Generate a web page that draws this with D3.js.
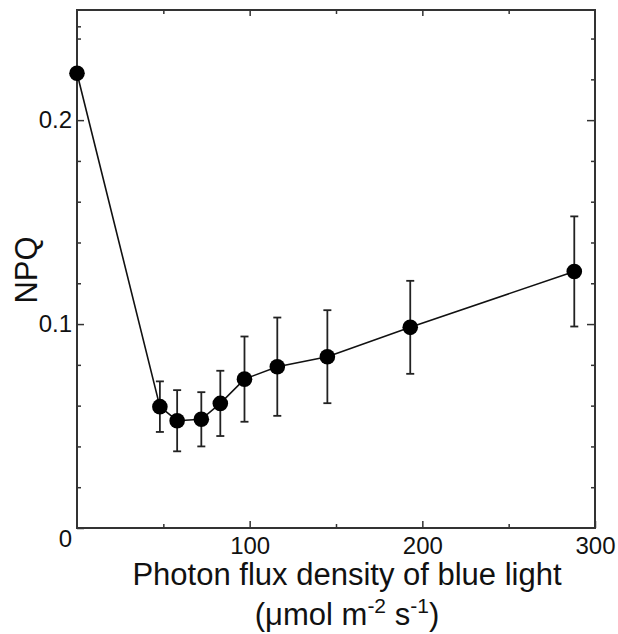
<!DOCTYPE html>
<html>
<head>
<meta charset="utf-8">
<script src="https://cdn.jsdelivr.net/npm/d3@7"></script>
<style>
  body { margin: 0; background: #fff; }
  text { font-family: "Liberation Sans", Arial, sans-serif; fill: #111; }
</style>
</head>
<body>
<div id="chart"></div>
<script>
// values
const pfd = [0, 48, 58, 72, 83, 97, 116, 145, 193, 288];
const npq = [0.223, 0.0595, 0.0526, 0.0533, 0.0611, 0.0730, 0.0791, 0.0840, 0.0984, 0.1258];
const npqErr = [0, 0.0124, 0.015, 0.0133, 0.016, 0.0209, 0.0241, 0.0228, 0.0228, 0.027];

const xMajor = [100, 200, 300];
const xMinor = [50, 150, 250];
const yMajor = [0, 0.1, 0.2];
const yMinorLeft = [0.02, 0.04, 0.06, 0.08, 0.12, 0.14, 0.16, 0.18, 0.24, 0.246];
const yMinorRight = [0.02, 0.04, 0.06, 0.08, 0.12, 0.14, 0.16, 0.18, 0.22, 0.24];

const W = 618, H = 634;
const margin = { top: 10, right: 23, bottom: 106, left: 77 };
const width = W - margin.left - margin.right;
const height = H - margin.top - margin.bottom;

const svg = d3.select("#chart")
  .append("svg")
  .attr("width", W)
  .attr("height", H);

const g = svg.append("g")
  .attr("transform", `translate(${margin.left},${margin.top})`);

const x = d3.scaleLinear().domain([0, 300]).range([0, width]);
const y = d3.scaleLinear().domain([0, 0.254]).range([height, 0]);

const data = pfd.map((d, i) => ({ x: d, y: npq[i], e: npqErr[i] }));

// axes, ticks pointing inwards
function styleAxis(sel) {
  sel.select(".domain").remove();
  sel.selectAll("line").attr("stroke", "#333").attr("stroke-width", 1.5);
  sel.selectAll("text").style("font-size", "24px").attr("fill", "#111");
}

g.append("g").attr("transform", `translate(0,${height})`)
  .call(d3.axisBottom(x).tickValues(xMajor).tickSize(-7).tickPadding(9).tickFormat(d3.format("d")))
  .call(styleAxis);
g.append("g").attr("transform", `translate(0,${height})`)
  .call(d3.axisBottom(x).tickValues(xMinor).tickSize(-4).tickFormat(""))
  .call(styleAxis);
g.append("g")
  .call(d3.axisTop(x).tickValues([100, 200]).tickSize(-6).tickFormat(""))
  .call(styleAxis);
g.append("g")
  .call(d3.axisTop(x).tickValues(xMinor).tickSize(-4).tickFormat(""))
  .call(styleAxis);

g.append("g")
  .call(d3.axisLeft(y).tickValues(yMajor).tickSize(-7).tickPadding(5)
    .tickFormat(d => d === 0 ? "0" : d3.format(".1f")(d)))
  .call(styleAxis)
  .call(a => a.selectAll(".tick").filter(d => d === 0).select("text").attr("dy", "0.78em"));
g.append("g")
  .call(d3.axisLeft(y).tickValues(yMinorLeft).tickSize(-4).tickFormat(""))
  .call(styleAxis);
g.append("g").attr("transform", `translate(${width},0)`)
  .call(d3.axisRight(y).tickValues([0.1, 0.2]).tickSize(-8).tickFormat(""))
  .call(styleAxis);
g.append("g").attr("transform", `translate(${width},0)`)
  .call(d3.axisRight(y).tickValues(yMinorRight).tickSize(-4).tickFormat(""))
  .call(styleAxis);

// frame
g.append("rect")
  .attr("width", width)
  .attr("height", height)
  .attr("fill", "none")
  .attr("stroke", "#333")
  .attr("stroke-width", 2);

// error bars
const bars = g.append("g").selectAll("g")
  .data(data.filter(d => d.e > 0))
  .enter().append("g")
  .attr("stroke", "#222")
  .attr("stroke-width", 1.8);

bars.append("line")
  .attr("x1", d => x(d.x)).attr("x2", d => x(d.x))
  .attr("y1", d => y(d.y + d.e)).attr("y2", d => y(d.y - d.e));
bars.append("line")
  .attr("x1", d => x(d.x) - 4).attr("x2", d => x(d.x) + 4)
  .attr("y1", d => y(d.y + d.e)).attr("y2", d => y(d.y + d.e));
bars.append("line")
  .attr("x1", d => x(d.x) - 4).attr("x2", d => x(d.x) + 4)
  .attr("y1", d => y(d.y - d.e)).attr("y2", d => y(d.y - d.e));

// line
const line = d3.line().x(d => x(d.x)).y(d => y(d.y));
g.append("path")
  .datum(data)
  .attr("d", line)
  .attr("fill", "none")
  .attr("stroke", "#111")
  .attr("stroke-width", 1.6);

// points
g.append("g").selectAll("circle")
  .data(data)
  .enter().append("circle")
  .attr("cx", d => x(d.x))
  .attr("cy", d => y(d.y))
  .attr("r", 7.8)
  .attr("fill", "#000");

// axis titles
svg.append("text")
  .attr("transform", "translate(37,270) rotate(-90)")
  .attr("text-anchor", "middle")
  .style("font-size", "31px")
  .text("NPQ");

svg.append("text")
  .attr("x", 347)
  .attr("y", 585)
  .attr("text-anchor", "middle")
  .style("font-size", "31px")
  .text("Photon flux density of blue light");

const unit = svg.append("text")
  .attr("x", 347)
  .attr("y", 625)
  .attr("text-anchor", "middle")
  .style("font-size", "31px");
unit.append("tspan").text("(\u03bcmol m");
unit.append("tspan").attr("dy", -12).style("font-size", "21px").text("-2");
unit.append("tspan").attr("dy", 12).text(" s");
unit.append("tspan").attr("dy", -12).style("font-size", "21px").text("-1");
unit.append("tspan").attr("dy", 12).text(")");
</script>
</body>
</html>
